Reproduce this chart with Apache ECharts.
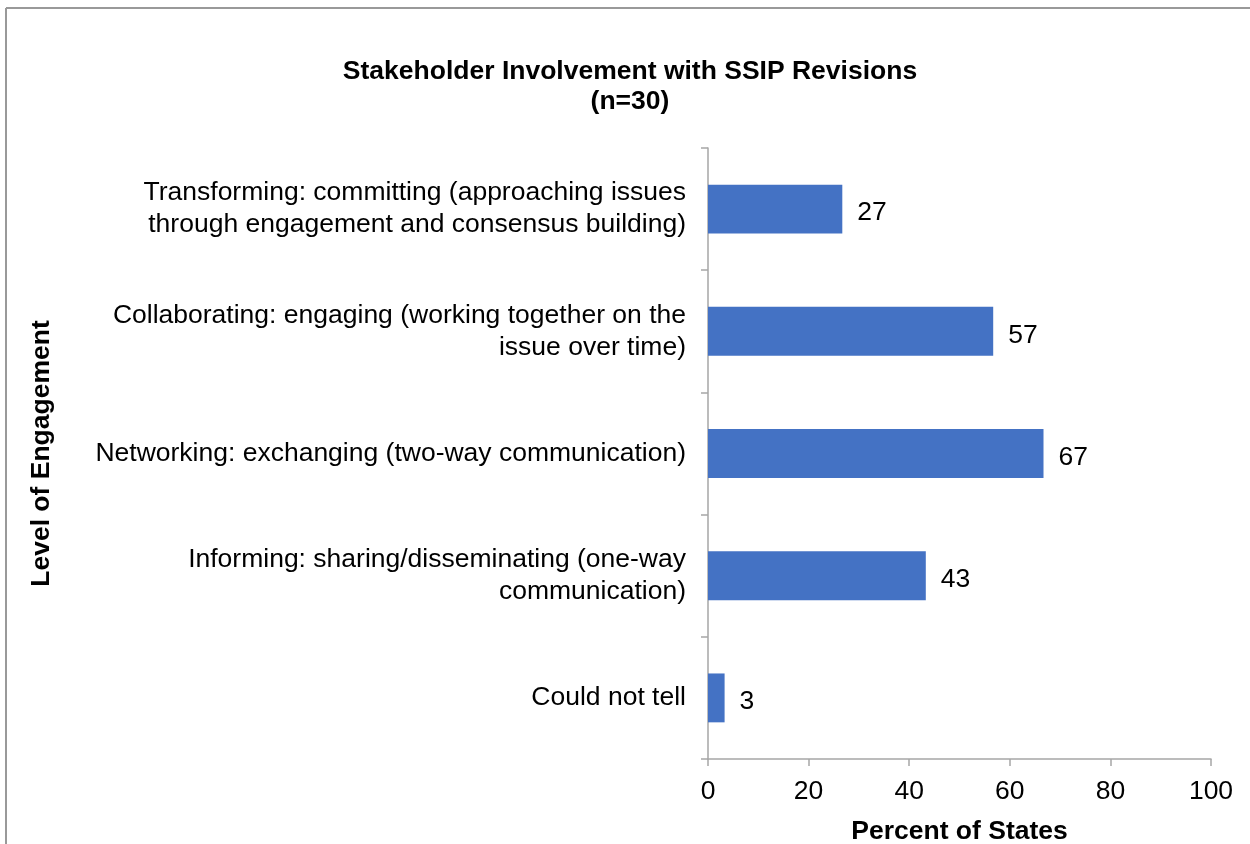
<!DOCTYPE html>
<html>
<head>
<meta charset="utf-8">
<script src="https://cdn.jsdelivr.net/npm/echarts@6/dist/echarts.min.js"></script>
<style>
html,body{margin:0;padding:0;background:#fff;}
#chart{width:1250px;height:844px;}
</style>
</head>
<body>
<div id="chart"></div>
<script>
const categories = [
  "Transforming: committing (approaching issues\nthrough engagement and consensus building)",
  "Collaborating: engaging (working together on the\nissue over time)",
  "Networking: exchanging (two-way communication)",
  "Informing: sharing/disseminating (one-way\ncommunication)",
  "Could not tell"
];
const values = [26.7, 56.7, 66.7, 43.3, 3.3];
const xTicks = [0, 20, 40, 60, 80, 100];

const chart = echarts.init(document.getElementById('chart'), null, {renderer: 'canvas'});
const font = "Arial, 'Liberation Sans', sans-serif";
const fs = 26.5;
chart.setOption({
  backgroundColor: '#fff',
  animation: false,
  textStyle: {fontFamily: font},
  title: {
    text: 'Stakeholder Involvement with SSIP Revisions\n(n=30)',
    left: 625, textAlign: 'center', top: 52,
    textStyle: {fontFamily: font, fontSize: 26.5, fontWeight: 'bold', color: '#000', lineHeight: 30}
  },
  graphic: [
    {type: 'line', shape: {x1: 6, y1: 8, x2: 1250, y2: 8}, style: {stroke: '#999', lineWidth: 2}},
    {type: 'line', shape: {x1: 6, y1: 8, x2: 6, y2: 844}, style: {stroke: '#999', lineWidth: 2}}
  ],
  grid: {left: 708, right: 39, top: 148, bottom: 85, containLabel: false, outerBoundsMode: 'none'},
  xAxis: {
    type: 'value', min: 0, max: 100, interval: 20,
    name: 'Percent of States', nameLocation: 'middle', nameGap: 59,
    nameTextStyle: {fontFamily: font, fontSize: fs, fontWeight: 'bold', color: '#000'},
    axisLine: {show: true, lineStyle: {color: '#a6a6a6', width: 1.5}},
    axisTick: {show: true, length: 7, lineStyle: {color: '#a6a6a6', width: 1.5}},
    axisLabel: {fontFamily: font, fontSize: fs, color: '#000', margin: 19,
      formatter: v => xTicks.includes(v) ? String(v) : ''},
    splitLine: {show: false}
  },
  yAxis: {
    type: 'category', data: categories, inverse: true,
    name: 'Level of Engagement', nameLocation: 'middle', nameGap: 653, nameRotate: 90,
    nameTextStyle: {fontFamily: font, fontSize: fs, fontWeight: 'bold', color: '#000'},
    axisLine: {show: true, lineStyle: {color: '#a6a6a6', width: 1.5}},
    axisTick: {show: true, length: 7, alignWithLabel: false, lineStyle: {color: '#a6a6a6', width: 1.5}},
    axisLabel: {fontFamily: font, fontSize: fs, color: '#000', margin: 22, lineHeight: 32, align: 'right',
      padding: [4, 0, 0, 0]}
  },
  series: [{
    type: 'bar', data: values, barWidth: '40%',
    itemStyle: {color: '#4472C4'},
    label: {show: true, position: 'right', distance: 15, offset: [0, 4], fontFamily: font, fontSize: fs, color: '#000',
      formatter: p => Math.round(p.value)}
  }]
});
</script>
</body>
</html>
